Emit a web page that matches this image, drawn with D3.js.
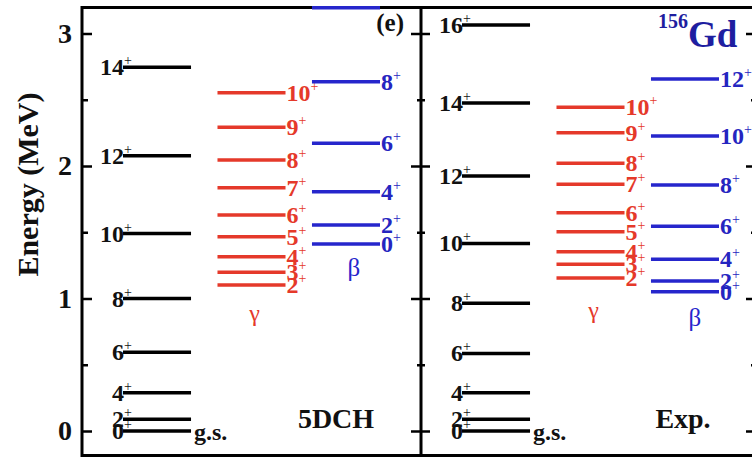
<!DOCTYPE html>
<html>
<head>
<meta charset="utf-8">
<script src="https://cdn.jsdelivr.net/npm/d3@7"></script>
<style>
  body { margin: 0; background: #fff; }
  svg, svg text { font-family: 'Liberation Serif', 'Times New Roman', serif; }
</style>
</head>
<body>
<div id="chart"></div>
<script>
// level energies in MeV
const gsSpinsCalc = [0, 2, 4, 6, 8, 10, 12, 14];
const gsCalc = [0, 0.088, 0.289, 0.594, 1.0, 1.49, 2.078, 2.745];
const gammaSpins = [2, 3, 4, 5, 6, 7, 8, 9, 10];
const gammaCalc = [1.102, 1.198, 1.315, 1.466, 1.63, 1.836, 2.045, 2.292, 2.553];
const betaSpinsCalc = [0, 2, 4, 6, 8, 10];
const betaCalc = [1.411, 1.555, 1.806, 2.171, 2.636, 3.195];

const gsSpinsExp = [0, 2, 4, 6, 8, 10, 12, 14, 16];
const gsExp = [0, 0.089, 0.288, 0.585, 0.965, 1.416, 1.924, 2.475, 3.064];
const gammaExp = [1.154, 1.258, 1.353, 1.504, 1.648, 1.862, 2.02, 2.251, 2.443];
const betaSpinsExp = [0, 2, 4, 6, 8, 10, 12];
const betaExp = [1.051, 1.132, 1.296, 1.545, 1.857, 2.226, 2.657];

const yTicks = [0, 1, 2, 3];
const yMinorTicks = [0.5, 1.5, 2.5];
const bandKeys = ['gs', 'gamma', 'beta'];

(function() {
  const width = 752;
  const height = 458;
  const top = 7.5;
  const bottom = 455.5;
  const font = "'Liberation Serif', 'Times New Roman', serif";
  const colors = {gs: '#000', gamma: '#e5392a', beta: '#2626cc'};
  const labelColors = {gs: '#111', gamma: '#e5392a', beta: '#2525c0'};

  const svg = d3.select('#chart').append('svg')
    .attr('width', width)
    .attr('height', height)
    .attr('font-family', font);
  svg.append('rect').attr('width', width).attr('height', height).attr('fill', '#fff');

  const yScale = d3.scaleLinear()
    .domain([0, 3])
    .range([431, 33.5]);

  const zip = (spins, energies) => spins.map((j, i) => ({j: j, e: energies[i]}));

  const panels = [
    {x0: 82, x1: 421, name: '5DCH', bands: {
      gs: zip(gsSpinsCalc, gsCalc), gamma: zip(gammaSpins, gammaCalc), beta: zip(betaSpinsCalc, betaCalc)}},
    {x0: 421, x1: 755, name: 'Exp.', bands: {
      gs: zip(gsSpinsExp, gsExp), gamma: zip(gammaSpins, gammaExp), beta: zip(betaSpinsExp, betaExp)}}
  ];

  // frame
  const frame = svg.append('g').attr('stroke', '#000').attr('stroke-width', 3);
  frame.append('line').attr('x1', 82).attr('x2', 760).attr('y1', top).attr('y2', top);
  frame.append('line').attr('x1', 82).attr('x2', 760).attr('y1', bottom).attr('y2', bottom);
  [82, 421, 755].forEach(x => frame.append('line')
    .attr('x1', x).attr('x2', x).attr('y1', top - 1.5).attr('y2', bottom + 1.5));

  // ticks
  const addAxis = (axis, x, values, size, labels) => {
    const g = svg.append('g')
      .attr('transform', `translate(${x}, 0)`)
      .call(axis(yScale).tickValues(values).tickSize(size).tickPadding(10)
        .tickFormat(labels ? d3.format('d') : ''));
    g.attr('font-family', font);
    g.select('.domain').remove();
    g.selectAll('.tick line').attr('stroke', '#000').attr('stroke-width', 2.5);
    g.selectAll('.tick text')
      .attr('font-family', font)
      .attr('font-size', '28px')
      .attr('font-weight', 'bold')
      .attr('fill', '#111');
  };
  addAxis(d3.axisLeft, 82, yTicks, -10, true);
  addAxis(d3.axisLeft, 82, yMinorTicks, -6, false);
  addAxis(d3.axisRight, 421, yTicks, -10, false);
  addAxis(d3.axisRight, 421, yMinorTicks, -4, false);
  addAxis(d3.axisLeft, 421, yTicks, -9, false);
  addAxis(d3.axisLeft, 421, yMinorTicks, -4, false);
  addAxis(d3.axisRight, 755, yTicks, -9, false);
  addAxis(d3.axisRight, 755, yMinorTicks, -4, false);

  svg.append('text')
    .attr('transform', `translate(38, ${yScale(1.86)}) rotate(-90)`)
    .attr('text-anchor', 'middle')
    .attr('font-size', '30px')
    .attr('font-weight', 'bold')
    .attr('fill', '#111')
    .text('Energy (MeV)');

  panels.forEach(p => {
    const xBand = d3.scaleBand()
      .domain(bandKeys)
      .range([p.x0 + 41, p.x0 + 41 + 257])
      .paddingInner(0.28);
    const g = svg.append('g');

    bandKeys.forEach(key => {
      const x0 = xBand(key);
      const x1 = x0 + xBand.bandwidth();
      g.selectAll(null)
        .data(p.bands[key])
        .join('line')
        .attr('x1', x0).attr('x2', x1)
        .attr('y1', d => yScale(d.e)).attr('y2', d => yScale(d.e))
        .attr('stroke', colors[key])
        .attr('stroke-width', 3.5);

      const labels = g.selectAll(null)
        .data(p.bands[key].filter(d => d.e < 3.12))
        .join('text')
        .attr('x', key === 'gs' ? x0 + 9 : x1 + 1)
        .attr('y', d => yScale(d.e) + 8)
        .attr('text-anchor', key === 'gs' ? 'end' : 'start')
        .attr('font-size', '24px')
        .attr('font-weight', 'bold')
        .attr('fill', labelColors[key])
        .text(d => d.j);
      labels.append('tspan')
        .attr('dy', -10)
        .attr('font-size', '14px')
        .attr('font-weight', 'normal')
        .text('+');
    });

    const gsEnd = xBand('gs') + xBand.bandwidth();
    g.append('text')
      .attr('x', gsEnd + 3)
      .attr('y', 440)
      .attr('font-size', '24px')
      .attr('font-weight', 'bold')
      .attr('fill', '#111')
      .text('g.s.');

    g.append('text')
      .attr('x', xBand('gamma') + 37)
      .attr('y', p.x0 === 82 ? 321 : 318)
      .attr('text-anchor', 'middle')
      .attr('font-size', '24px')
      .attr('fill', colors.gamma)
      .text('γ');
    g.append('text')
      .attr('x', xBand('beta') + (p.x0 === 82 ? 42 : 44))
      .attr('y', p.x0 === 82 ? 276 : 326)
      .attr('text-anchor', 'middle')
      .attr('font-size', '25px')
      .attr('fill', colors.beta)
      .text('β');

    g.append('text')
      .attr('x', p.x0 === 82 ? 336 : 683)
      .attr('y', 428)
      .attr('text-anchor', 'middle')
      .attr('font-size', '28px')
      .attr('font-weight', 'bold')
      .attr('fill', '#111')
      .text(p.name);
  });

  svg.append('text')
    .attr('x', 404)
    .attr('y', 31)
    .attr('text-anchor', 'end')
    .attr('font-size', '25px')
    .attr('font-weight', 'bold')
    .attr('fill', '#111')
    .text('(e)');

  const gd = svg.append('text')
    .attr('x', 658)
    .attr('y', 47)
    .attr('font-weight', 'bold')
    .attr('fill', '#1e1ea0');
  gd.append('tspan').attr('font-size', '20px').attr('dy', -19).text('156');
  gd.append('tspan').attr('font-size', '37px').attr('dy', 19).text('Gd');
})();
</script>
</body>
</html>
